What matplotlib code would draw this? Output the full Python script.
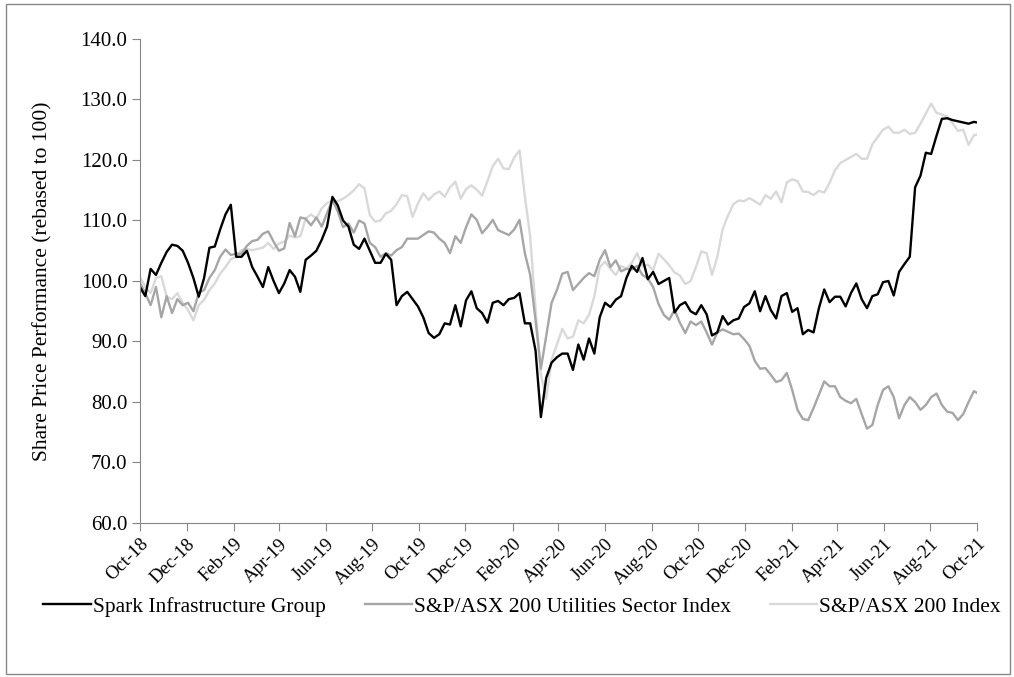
import matplotlib
matplotlib.use("Agg")
from matplotlib import pyplot as plt
import matplotlib.dates as mdates
from matplotlib.patches import Rectangle
import pandas as pd

# weekly closes, rebased to 100
spark = [99.0, 97.5, 102.0, 101.0, 103.0, 104.8, 106.0, 105.8, 105.0, 103.0,
         100.5, 97.4, 100.5, 105.5, 105.7, 108.5, 111.0, 112.6, 104.0, 104.0,
         105.0, 102.3, 100.7, 99.0, 102.3, 100.0, 98.0, 99.6, 101.8, 100.7,
         98.2, 103.5, 104.2, 105.0, 106.8, 109.0, 113.9, 112.5, 110.0, 109.0,
         106.0, 105.3, 107.0, 105.0, 103.0, 103.0, 104.5, 103.5, 96.0, 97.5,
         98.2, 97.0, 95.8, 94.0, 91.4, 90.6, 91.2, 93.0, 92.8, 96.0,
         92.5, 96.8, 98.3, 95.5, 94.7, 93.1, 96.4, 96.7, 96.0, 97.0,
         97.2, 98.0, 93.0, 93.0, 88.5, 77.5, 84.0, 86.5, 87.4, 88.0,
         88.0, 85.3, 89.5, 87.0, 90.5, 88.0, 94.0, 96.4, 95.7, 96.9,
         97.5, 100.5, 102.5, 101.5, 103.8, 100.3, 101.5, 99.5, 100.0, 100.5,
         94.8, 96.0, 96.5, 95.0, 94.5, 96.0, 94.5, 91.0, 91.5, 94.2,
         92.8, 93.5, 93.8, 95.7, 96.3, 98.3, 95.0, 97.5, 95.2, 93.8,
         97.5, 98.0, 94.9, 95.5, 91.2, 91.9, 91.5, 95.5, 98.6, 96.5,
         97.4, 97.4, 95.8, 98.0, 99.6, 97.0, 95.5, 97.5, 97.8, 99.8,
         100.0, 97.6, 101.5, 102.8, 104.0, 115.5, 117.4, 121.2, 121.0, 124.0,
         126.8, 126.9, 126.6, 126.4, 126.2, 126.0, 126.3, 126.2]

utilities = [99.7, 98.0, 96.0, 99.0, 94.0, 97.5, 94.7, 97.0, 96.0, 96.4,
             95.0, 98.0, 98.5, 100.5, 101.8, 104.0, 105.2, 104.3, 104.5, 104.5,
             105.8, 106.6, 106.8, 107.8, 108.2, 106.5, 105.0, 105.4, 109.6, 107.4,
             110.5, 110.3, 109.2, 110.5, 109.0, 111.2, 113.4, 111.5, 108.9, 109.5,
             108.0, 110.0, 109.5, 106.3, 105.6, 104.0, 104.6, 104.2, 105.1, 105.6,
             107.0, 107.0, 107.0, 107.6, 108.2, 108.0, 107.0, 106.3, 104.6, 107.4,
             106.3, 108.9, 111.0, 110.1, 107.9, 108.9, 110.1, 108.4, 108.0, 107.6,
             108.5, 110.1, 104.6, 101.0, 93.5, 85.5, 91.0, 96.4, 98.5, 101.2,
             101.5, 98.5, 99.5, 100.5, 101.3, 100.8, 103.5, 105.1, 102.3, 103.4,
             101.6, 102.0, 101.9, 102.5, 101.0, 100.4, 99.0, 96.2, 94.4, 93.6,
             95.2, 93.1, 91.4, 93.3, 92.7, 93.3, 91.5, 89.5, 91.5, 92.0,
             91.6, 91.2, 91.3, 90.4, 89.3, 86.8, 85.5, 85.6, 84.5, 83.3,
             83.6, 84.8, 82.0, 78.7, 77.2, 77.0, 79.0, 81.2, 83.4, 82.6,
             82.6, 80.8, 80.2, 79.8, 80.5, 78.0, 75.6, 76.2, 79.5, 82.0,
             82.6, 80.8, 77.3, 79.5, 80.8, 80.0, 78.7, 79.5, 80.8, 81.4,
             79.5, 78.4, 78.2, 77.0, 78.0, 80.0, 81.8, 81.5]

asx200 = [100.7, 99.0, 98.0, 100.5, 100.8, 97.4, 97.0, 98.0, 96.4, 95.2,
          93.5, 96.0, 96.9, 98.5, 99.6, 101.2, 102.3, 103.6, 104.0, 105.1,
          105.3, 105.1, 105.3, 105.5, 106.3, 105.3, 106.2, 106.5, 107.5, 107.2,
          107.4, 110.3, 111.0, 110.3, 112.0, 112.9, 113.2, 113.2, 113.6, 114.2,
          115.0, 116.0, 115.3, 110.9, 109.8, 110.0, 111.2, 111.6, 112.7, 114.2,
          114.0, 110.6, 112.8, 114.5, 113.4, 114.3, 114.8, 113.9, 115.5, 116.4,
          113.6, 115.2, 115.8, 115.1, 114.1, 116.5, 119.0, 120.2, 118.6, 118.5,
          120.4, 121.6, 114.0, 107.3, 95.5, 84.5, 80.5, 87.0, 89.5, 92.1,
          90.5, 90.8, 93.5, 93.0, 94.4, 97.5, 102.3, 103.2, 102.0, 101.0,
          102.5, 102.0, 103.0, 104.6, 102.4, 102.7, 101.8, 104.5, 103.6, 102.6,
          101.4, 100.9, 99.5, 100.0, 102.3, 104.9, 104.6, 101.0, 104.0, 108.6,
          110.8, 112.7, 113.3, 113.2, 113.7, 113.2, 112.6, 114.2, 113.6, 114.8,
          113.0, 116.3, 116.8, 116.5, 114.8, 114.7, 114.2, 114.9, 114.6, 116.2,
          118.3, 119.5, 120.0, 120.5, 121.0, 120.2, 120.2, 122.6, 123.8, 125.0,
          125.5, 124.5, 124.5, 125.0, 124.3, 124.5, 126.0, 127.7, 129.3, 127.8,
          127.5, 127.2, 126.1, 124.8, 125.0, 122.5, 124.1, 124.2]

dates = list(pd.date_range("2018-10-01", periods=157, freq="7D")) + [pd.Timestamp("2021-10-01")]

labels = ["Spark Infrastructure Group", "S&P/ASX 200 Utilities Sector Index", "S&P/ASX 200 Index"]
colors = ["#000000", "#a6a6a6", "#d9d9d9"]

plt.rcParams['font.family'] = ['Liberation Serif', 'DejaVu Serif']
plt.rcParams['font.size'] = 15

fig = plt.figure(figsize=(10.14, 6.77), dpi=100)
ax = fig.add_axes([0.138, 0.2275, 0.8255, 0.7149])

# draw light series first so black stays on top
for series, lab, col in reversed(list(zip([spark, utilities, asx200], labels, colors))):
    ax.plot(dates, series, color=col, lw=1.7, label=lab)

ax.set_ylim(60, 140)
ax.set_yticks(range(60, 141, 10))
ax.yaxis.set_major_formatter(matplotlib.ticker.FormatStrFormatter('%.1f'))
ax.set_xlim(pd.Timestamp("2018-10-01"), pd.Timestamp("2021-10-01"))
ax.xaxis.set_major_locator(mdates.MonthLocator(bymonth=[2, 4, 6, 8, 10, 12]))
ax.xaxis.set_major_formatter(mdates.DateFormatter('%b-%y'))
plt.setp(ax.get_xticklabels(), rotation=45, ha='right', rotation_mode='anchor', fontsize=13.5)

for side in ['top', 'right']:
    ax.spines[side].set_visible(False)
for side in ['left', 'bottom']:
    ax.spines[side].set_color('#868686')
ax.tick_params(axis='both', direction='out', color='#868686', length=6, pad=3)
ax.tick_params(axis='y', labelsize=15)
ax.set_ylabel('Share Price Performance (rebased to 100)', fontsize=15.5, labelpad=20)

handles, labs = ax.get_legend_handles_labels()
fig.legend(handles[::-1], labs[::-1], loc='center', bbox_to_anchor=(0.515, 0.104), ncol=3,
           frameon=False, handlelength=2.2, handletextpad=0.1, columnspacing=1.8, fontsize=15.5)

fig.patches.append(Rectangle((0.006, 0.005), 0.99, 0.989, transform=fig.transFigure,
                             fill=False, edgecolor='#868686', lw=1))

fig.savefig('out.png', dpi=100)
